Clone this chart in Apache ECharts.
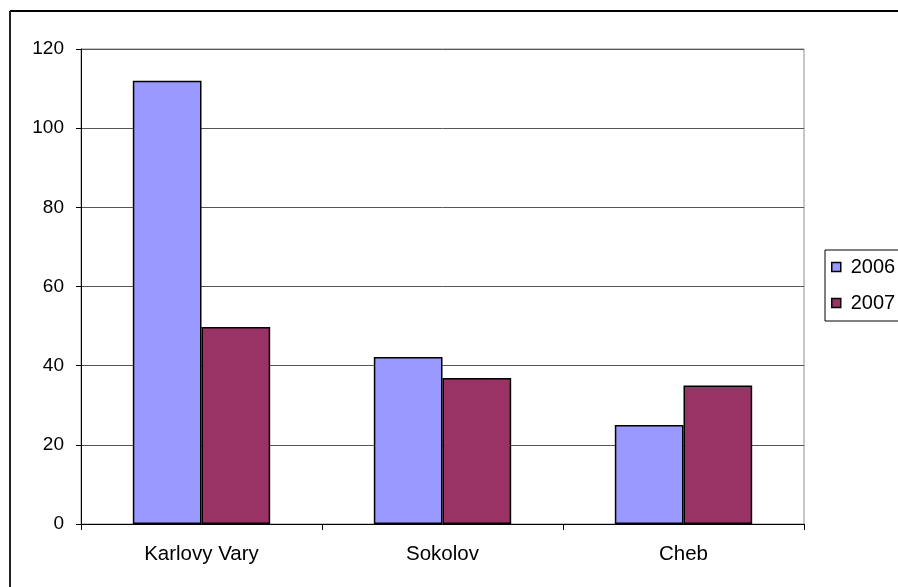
<!DOCTYPE html>
<html>
<head>
<meta charset="utf-8">
<script src="https://cdn.jsdelivr.net/npm/echarts@6/dist/echarts.min.js"></script>
<style>
  html, body { margin: 0; padding: 0; background: #fff; }
  #chart { width: 898px; height: 587px; }
</style>
</head>
<body>
<div id="chart"></div>
<script>
// Districts and yearly counts
const categories = ['Karlovy Vary', 'Sokolov', 'Cheb'];
const values2006 = [112, 42.2, 25];
const values2007 = [49.8, 36.9, 35];
const seriesNames = ['2006', '2007'];

const FONT = '"Liberation Sans", Arial, sans-serif';

const chart = echarts.init(document.getElementById('chart'), null, { renderer: 'canvas' });

chart.setOption({
  backgroundColor: '#ffffff',
  animation: false,
  textStyle: { fontFamily: FONT, color: '#000' },
  grid: {
    left: 81, top: 49, right: 94, bottom: 63,
    show: true, borderColor: '#8c8c8c', borderWidth: 1, backgroundColor: 'transparent'
  },
  legend: {
    orient: 'vertical',
    left: 825, top: 250,
    padding: [7, 30, 8, 6],
    itemGap: 16,
    itemWidth: 9, itemHeight: 9,
    icon: 'rect',
    backgroundColor: '#fff',
    borderColor: '#000', borderWidth: 1,
    textStyle: { fontFamily: FONT, fontSize: 20, color: '#000', lineHeight: 20, padding: [0, 0, 0, 5] },
    itemStyle: { borderColor: '#000', borderWidth: 1.5 },
    data: seriesNames
  },
  xAxis: {
    type: 'category',
    data: categories,
    boundaryGap: true,
    axisLine: { lineStyle: { color: '#000', width: 1 } },
    axisTick: { show: true, length: 6, interval: 0, lineStyle: { color: '#000' } },
    axisLabel: { fontFamily: FONT, fontSize: 20.5, color: '#000', margin: 20 },
    splitLine: { show: false }
  },
  yAxis: {
    type: 'value',
    min: 0, max: 120, interval: 20,
    axisLine: { show: true, lineStyle: { color: '#000', width: 1 } },
    axisTick: { show: true, length: 5, lineStyle: { color: '#000' } },
    axisLabel: { fontFamily: FONT, fontSize: 19, color: '#000', margin: 17 },
    splitLine: { show: true, lineStyle: { color: '#555', width: 1 } }
  },
  series: [
    {
      name: seriesNames[0],
      type: 'bar',
      data: values2006,
      barGap: '0%',
      barCategoryGap: '43%',
      itemStyle: { color: '#9999FF', borderColor: '#000', borderWidth: 1.5 }
    },
    {
      name: seriesNames[1],
      type: 'bar',
      data: values2007,
      barGap: '0%',
      barCategoryGap: '43%',
      itemStyle: { color: '#993366', borderColor: '#000', borderWidth: 1.5 }
    }
  ],
  graphic: [
    { type: 'line', shape: { x1: 10, y1: 11, x2: 898, y2: 11 }, style: { stroke: '#000', lineWidth: 2 }, silent: true },
    { type: 'line', shape: { x1: 10, y1: 11, x2: 10, y2: 587 }, style: { stroke: '#222', lineWidth: 2 }, silent: true }
  ]
});
</script>
</body>
</html>
